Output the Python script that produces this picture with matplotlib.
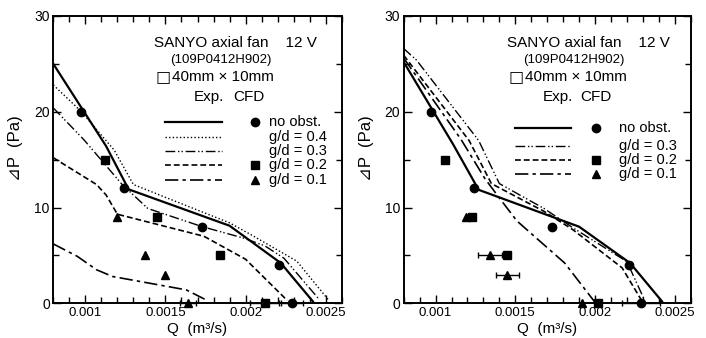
import matplotlib
matplotlib.use("Agg")
import matplotlib.pyplot as plt
from matplotlib.ticker import MultipleLocator

plt.rcParams['font.family'] = ['Liberation Sans', 'DejaVu Sans']
plt.rcParams['font.size'] = 10

# ---- left panel: experiment curves (Q in m3/s, dP in Pa)
L_q_none = [0.0008, 0.00113, 0.00127, 0.0019, 0.00222, 0.00242]
L_p_none = [25.0, 16.4, 11.9, 8.1, 4.2, 0.2]
L_q_04 = [0.0008, 0.00097, 0.00118, 0.0013, 0.0019, 0.00203, 0.00232, 0.00252]
L_p_04 = [22.8, 20.1, 16.0, 12.4, 8.4, 7.2, 4.4, 0.3]
L_q_03 = [0.0008, 0.00099, 0.00123, 0.00139, 0.00173, 0.00199, 0.00212, 0.00224, 0.00246]
L_p_03 = [20.4, 17.1, 12.4, 9.9, 8.0, 6.8, 6.0, 4.7, 0.4]
L_q_02 = [0.0008, 0.00107, 0.00113, 0.0012, 0.00174, 0.002, 0.00226]
L_p_02 = [15.2, 12.4, 11.3, 9.3, 7.0, 4.6, 0.3]
L_q_01 = [0.0008, 0.00095, 0.00107, 0.00117, 0.00163, 0.00176]
L_p_01 = [6.2, 4.9, 3.5, 2.8, 1.4, 0.3]

# left panel: CFD points
L_cfd_q_none = [0.00097, 0.00124, 0.00173, 0.00221, 0.00229]
L_cfd_p_none = [20, 12, 8, 4, 0]
L_cfd_q_02 = [0.00112, 0.00145, 0.00184, 0.00212]
L_cfd_p_02 = [15, 9, 5, 0]
L_cfd_q_01 = [0.0012, 0.00137, 0.0015, 0.00164]
L_cfd_p_01 = [9, 5, 3, 0]
L_err_none = [0, 0, 0, 0, 0.00007]
L_err_02 = [0, 0, 0, 0.00009]
L_err_01 = [0, 0, 0, 0.00005]

# ---- right panel: experiment curves
R_q_none = [0.0008, 0.00111, 0.00127, 0.0019, 0.00222, 0.00242]
R_p_none = [25.2, 16.6, 11.85, 8.0, 4.2, 0.2]
R_q_03 = [0.0008, 0.00088, 0.00127, 0.0014, 0.00168, 0.00186, 0.0022, 0.00231]
R_p_03 = [26.6, 25.4, 17.0, 12.5, 9.9, 7.9, 4.35, 0.35]
R_q_02 = [0.0008, 0.00121, 0.00135, 0.00168, 0.00186, 0.00217, 0.00229]
R_p_02 = [25.9, 17.0, 12.5, 9.6, 7.7, 3.7, 0.35]
R_q_01 = [0.0008, 0.00116, 0.00131, 0.0014, 0.00151, 0.00166, 0.00181, 0.002]
R_p_01 = [25.6, 17.1, 13.0, 11.0, 8.6, 6.4, 4.2, 0.1]

# right panel: CFD points
R_cfd_q_none = [0.00097, 0.00124, 0.00173, 0.00221, 0.00229]
R_cfd_p_none = [20, 12, 8, 4, 0]
R_cfd_q_02 = [0.00106, 0.00123, 0.00145, 0.00202]
R_cfd_p_02 = [15, 9, 5, 0]
R_cfd_q_01 = [0.00119, 0.00134, 0.00145, 0.00192]
R_cfd_p_01 = [9, 5, 3, 0]
R_err_none = [0, 0, 0, 0, 0.00012]
R_err_01 = [0, 0.000075, 0.00007, 0]

x_ticks = [0.001, 0.0015, 0.002, 0.0025]
x_ticklabels = ['0.001', '0.0015', '0.002', '0.0025']
y_ticks = [0, 10, 20, 30]

ls_solid = '-'
ls_dot = (0, (1, 1.6))
ls_dd = (0, (7, 2, 1, 1.5, 1, 2))
ls_dash = (0, (3.5, 1.8))
ls_da = (0, (8, 2.5, 2, 2.5))

W, H = 706, 338
fig = plt.figure(figsize=(7.06, 3.38), dpi=100)
ax1 = fig.add_axes([53.3/W, 1-303.3/H, 288.4/W, 287.3/H])
ax2 = fig.add_axes([403.7/W, 1-303.3/H, 287/W, 287.3/H])


def style(ax):
    ax.set_xlim(0.0008, 0.0026)
    ax.set_ylim(0, 30)
    ax.set_xticks(x_ticks)
    ax.set_xticklabels(x_ticklabels)
    ax.set_yticks(y_ticks)
    ax.xaxis.set_minor_locator(MultipleLocator(0.0001))
    ax.yaxis.set_minor_locator(MultipleLocator(5))
    ax.tick_params(which='both', direction='in', top=True, right=True, width=1.0, labelsize=10)
    ax.tick_params(axis='x', labelsize=9.5)
    ax.tick_params(which='major', length=6, pad=2.5)
    ax.tick_params(which='minor', length=4)
    for s in ax.spines.values():
        s.set_linewidth(1.4)
    ax.set_xlabel('Q  (m³/s)', fontsize=11, va='center')
    ax.xaxis.set_label_coords(0.5, -0.088)
    ax.set_ylabel('⊿P  (Pa)', fontsize=12, va='center')
    ax.yaxis.set_label_coords(-0.13, 0.54)


def cfd(ax, q, p, marker, ms, err=None):
    ax.errorbar(q, p, xerr=err, fmt=marker, color='black', ms=ms, capsize=2.5,
                elinewidth=1, clip_on=False, zorder=5)


# left panel
ax = ax1
ax.plot(L_q_none, L_p_none, color='black', lw=1.6, ls=ls_solid)
ax.plot(L_q_04, L_p_04, color='black', lw=1.0, ls=ls_dot)
ax.plot(L_q_03, L_p_03, color='black', lw=1.0, ls=ls_dd)
ax.plot(L_q_02, L_p_02, color='black', lw=1.2, ls=ls_dash)
ax.plot(L_q_01, L_p_01, color='black', lw=1.2, ls=ls_da)
cfd(ax, L_cfd_q_none, L_cfd_p_none, 'o', 6, L_err_none)
cfd(ax, L_cfd_q_02, L_cfd_p_02, 's', 6, L_err_02)
cfd(ax, L_cfd_q_01, L_cfd_p_01, '^', 6, L_err_01)
style(ax)

# right panel
ax = ax2
ax.plot(R_q_none, R_p_none, color='black', lw=1.6, ls=ls_solid)
ax.plot(R_q_03, R_p_03, color='black', lw=1.0, ls=ls_dd)
ax.plot(R_q_02, R_p_02, color='black', lw=1.2, ls=ls_dash)
ax.plot(R_q_01, R_p_01, color='black', lw=1.2, ls=ls_da)
cfd(ax, R_cfd_q_none, R_cfd_p_none, 'o', 6, R_err_none)
cfd(ax, R_cfd_q_02, R_cfd_p_02, 's', 6)
cfd(ax, R_cfd_q_01, R_cfd_p_01, '^', 6, R_err_01)
style(ax)


def header(x0):
    fig.text((x0 + 80) / W, 1 - 43 / H, 'SANYO axial fan    12 V',
             ha='center', va='center', fontsize=11)
    fig.text((x0 + 66) / W, 1 - 60 / H, '(109P0412H902)',
             ha='center', va='center', fontsize=9.5)
    fig.text((x0 + 1) / W, 1 - 77 / H, '□', ha='left', va='center',
             fontsize=11.5, family=['DejaVu Sans'])
    fig.text((x0 + 17) / W, 1 - 77 / H, '40mm × 10mm',
             ha='left', va='center', fontsize=11)


header(155)
header(508)

leg_left = [('-', 'o', 'no obst.'), ('dot', None, 'g/d = 0.4'), ('dd', None, 'g/d = 0.3'),
            ('dash', 's', 'g/d = 0.2'), ('da', '^', 'g/d = 0.1')]
leg_right = [('-', 'o', 'no obst.'), ('dd', None, 'g/d = 0.3'),
             ('dash', 's', 'g/d = 0.2'), ('da', '^', 'g/d = 0.1')]
styles = {'-': (ls_solid, 1.6), 'dot': (ls_dot, 1.0), 'dd': (ls_dd, 1.0),
          'dash': (ls_dash, 1.2), 'da': (ls_da, 1.2)}


def legend(rows, ys, x_line, x_mark, x_lab, y_head, x_exp, x_cfd):
    fig.text(x_exp / W, 1 - y_head / H, 'Exp.', ha='center', va='center', fontsize=11)
    fig.text(x_cfd / W, 1 - y_head / H, 'CFD', ha='center', va='center', fontsize=11)
    for (st, mk, lab), y in zip(rows, ys):
        ls, lw = styles[st]
        fig.add_artist(plt.Line2D([x_line[0] / W, x_line[1] / W], [1 - y / H, 1 - y / H],
                                  color='black', ls=ls, lw=lw))
        if mk:
            fig.add_artist(plt.Line2D([x_mark / W], [1 - y / H], marker=mk, ms=6,
                                      color='black', ls='none'))
        fig.text(x_lab / W, 1 - y / H, lab, ha='left', va='center', fontsize=10.5)


legend(leg_left, [121.7, 136.7, 150.5, 165, 180], (165, 221.7), 255, 269,
       97, 209, 249)
legend(leg_right, [128.3, 145.7, 160, 174.3], (514.7, 571.3), 596.3, 619,
       97, 558, 596)

fig.savefig('out.png', dpi=100)
